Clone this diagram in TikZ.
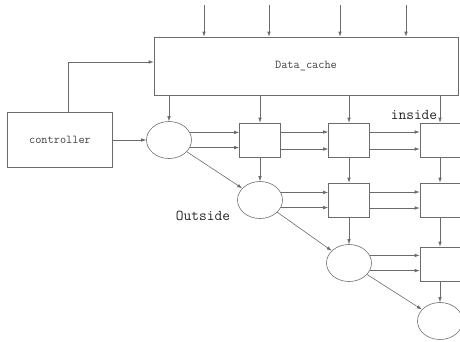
\documentclass[tikz,border=0pt]{standalone}
\usetikzlibrary{shapes.geometric,arrows.meta}

\definecolor{wire}{gray}{0.42}

\begin{document}
\begin{tikzpicture}[x=1pt, y=-1pt, >={Latex[length=5pt,width=3.5pt]}]
    \useasboundingbox (0,0) rectangle (460,341); % bounding box

    % labels
    \node at (414,115) [font=\ttfamily\fontsize{15}{15}\selectfont, text=black!85] (inlab)  {inside};
    \node at (203,216) [font=\ttfamily\fontsize{15}{15}\selectfont, text=black!85] (outlab) {Outside};

    % blocks
    \begin{scope}[every node/.style={draw=wire, semithick, inner sep=0pt, font=\ttfamily\fontsize{12}{12}\selectfont, text=black!75}]
        \node at (306, 66) [rectangle, minimum width=304, minimum height=58] (cache) {Data\_cache};
        \node at ( 60,140) [rectangle, minimum width=105, minimum height=55] (ctrl)  {controller};

        % diagonal
        \node at (169,140) [ellipse, minimum width=45, minimum height=37] (c1) {};
        \node at (260,200) [ellipse, minimum width=45, minimum height=37] (c2) {};
        \node at (349,263) [ellipse, minimum width=45, minimum height=37] (c3) {};
        \node at (440,321) [ellipse, minimum width=45, minimum height=37] (c4) {};

        % cells
        \node at (260,140) [rectangle, minimum width=41, minimum height=34] (b11) {};
        \node at (349,140) [rectangle, minimum width=41, minimum height=34] (b12) {};
        \node at (440,140) [rectangle, minimum width=40, minimum height=34] (b13) {};
        \node at (349,200) [rectangle, minimum width=41, minimum height=34] (b22) {};
        \node at (440,200) [rectangle, minimum width=40, minimum height=34] (b23) {};
        \node at (440,264) [rectangle, minimum width=40, minimum height=34] (b33) {};
    \end{scope}

    % inputs
    \coordinate (in1) at (204,5);
    \coordinate (in2) at (269,5);
    \coordinate (in3) at (340,5);
    \coordinate (in4) at (406,5);
    \coordinate (tap) at ( 68,62);

    \begin{scope}[every path/.style={draw=wire, semithick, ->}]
        \draw (in1) -- (in1 |- cache.north);
        \draw (in2) -- (in2 |- cache.north);
        \draw (in3) -- (in3 |- cache.north);
        \draw (in4) -- (in4 |- cache.north);

        \draw (ctrl.north -| tap) -- (tap) -- (tap -| cache.west);
        \draw (ctrl.east) -- (c1.west);

        % from the cache
        \draw (cache.south -| c1.north)  -- (c1.north);
        \draw (cache.south -| b11.north) -- (b11.north);
        \draw (cache.south -| b12.north) -- (b12.north);
        \draw (cache.south -| b13.north) -- (b13.north);

        % rows
        \draw (c1.20)  -- (b11.west |- c1.20);
        \draw (c1.-20) -- (b11.west |- c1.-20);
        \draw ([yshift= 8pt]b11.east) -- ([yshift= 8pt]b12.west);
        \draw ([yshift=-9pt]b11.east) -- ([yshift=-9pt]b12.west);
        \draw ([yshift= 8pt]b12.east) -- ([yshift= 8pt]b13.west);
        \draw ([yshift=-9pt]b12.east) -- ([yshift=-9pt]b13.west);

        \draw (c2.20)  -- (b22.west |- c2.20);
        \draw (c2.-20) -- (b22.west |- c2.-20);
        \draw ([yshift= 8pt]b22.east) -- ([yshift= 8pt]b23.west);
        \draw ([yshift=-8pt]b22.east) -- ([yshift=-8pt]b23.west);

        \draw (c3.20)  -- (b33.west |- c3.20);
        \draw (c3.-20) -- (b33.west |- c3.-20);

        % columns
        \draw (b11.south) -- (c2.north);
        \draw (b12.south) -- (b22.north);
        \draw (b13.south) -- (b23.north);
        \draw (b22.south) -- (c3.north);
        \draw (b23.south) -- (b33.north);
        \draw (b33.south) -- (c4.north);

        % outside
        \draw (c1) -- (c2);
        \draw (c2) -- (c3);
        \draw (c3) -- (c4);
    \end{scope}
\end{tikzpicture}
\end{document}
